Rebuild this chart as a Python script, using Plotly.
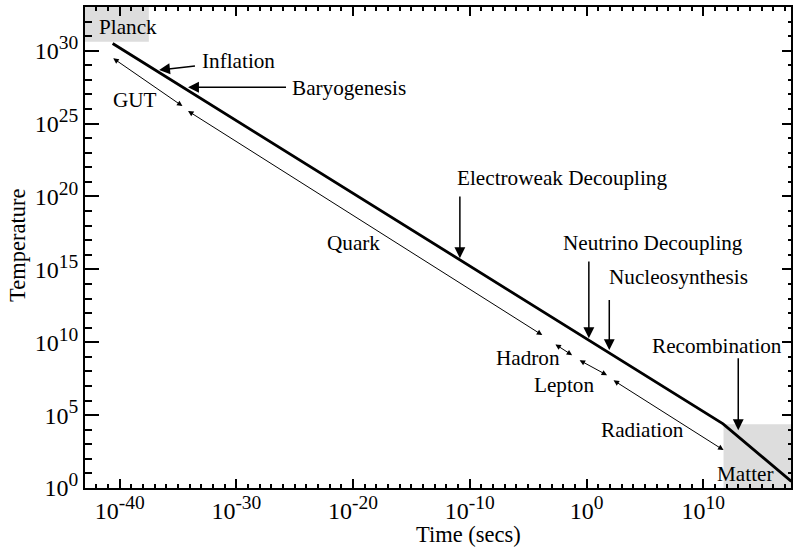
import plotly.graph_objects as go

# Axes are in decades: x = log10(time / s), y = log10(temperature / K)
X_RANGE = [-42.97, 17.52]
Y_RANGE = [0.0, 33.0]

# Cosmic temperature history (breakpoints in decades)
history_log_t = [-40.6, 11.7, 17.55]
history_log_T = [30.5, 4.4, 0.45]

# Epochs drawn as double-headed arrows below the curve
era_names = ["GUT", "Quark", "Hadron", "Lepton", "Radiation"]
era_start_log_t = [-40.68, -34.27, -2.79, -0.72, 2.19]
era_end_log_t = [-34.62, -3.79, -1.23, 1.76, 11.74]
era_start_log_T = [29.55, 25.93, 9.92, 8.82, 7.45]
era_end_log_T = [26.20, 10.49, 9.11, 7.74, 2.60]

# Events marked with vertical arrows onto the curve
event_names = ["Electroweak Decoupling", "Neutrino Decoupling", "Nucleosynthesis", "Recombination"]
event_log_t = [-10.85, 0.20, 1.95, 13.0]
event_tip_log_T = [15.77, 10.28, 9.46, 3.97]
event_tail_log_T = [20.10, 15.64, 13.00, 9.00]

# Early-universe events marked with side arrows
early_names = ["Inflation", "Baryogenesis"]
early_tip_log_t = [-36.62, -34.14]
early_tip_log_T = [28.68, 27.49]
early_tail_log_t = [-33.42, -25.62]
early_tail_log_T = [28.97, 27.49]

# Shaded regimes
planck_box = dict(t0=X_RANGE[0], t1=-37.5, T0=30.62, T1=Y_RANGE[1])
matter_box = dict(t0=11.74, t1=X_RANGE[1], T0=Y_RANGE[0], T1=4.38)

# Tick labels (powers of ten)
x_tick_exps = [-40, -30, -20, -10, 0, 10]
y_tick_exps = [0, 5, 10, 15, 20, 25, 30]

FONT = "Liberation Serif, Times New Roman, serif"
TXT = 21.2
TICK = 24
SUP = 19.5
TITLE = 22.5


def power_label(e):
    return f"10<sup><span style='font-size:{SUP}px'>{e}</span></sup>"


x_tick_text = [power_label(e) for e in x_tick_exps]
y_tick_text = [power_label(e) for e in y_tick_exps]

fig = go.Figure()
fig.add_trace(go.Scatter(
    x=history_log_t, y=history_log_T, mode="lines",
    line=dict(color="black", width=2.8), hoverinfo="skip", showlegend=False,
))
# helper trace so the top/right tick axes are drawn
fig.add_trace(go.Scatter(
    x=[0], y=[10], xaxis="x2", yaxis="y2", mode="markers",
    marker=dict(opacity=0), hoverinfo="skip", showlegend=False,
))

shapes = []
for b in (planck_box, matter_box):
    shapes.append(dict(
        type="rect", xref="x", yref="y", x0=b["t0"], x1=b["t1"], y0=b["T0"], y1=b["T1"],
        fillcolor="#dddddd", line=dict(width=0), layer="below",
    ))

annotations = []


def arrow(x, y, ax, ay, width, size, both=False):
    d = dict(
        x=x, y=y, ax=ax, ay=ay, xref="x", yref="y", axref="x", ayref="y",
        text="", showarrow=True, arrowhead=2, arrowsize=size, arrowwidth=width,
        arrowcolor="black", standoff=0, startstandoff=0,
    )
    if both:
        d.update(arrowside="end+start", startarrowhead=2, startarrowsize=size)
    return d


def label(text, x, y):
    return dict(
        x=x, y=y, xref="x", yref="y", text=text, showarrow=False,
        xanchor="left", yanchor="middle", font=dict(family=FONT, size=TXT, color="black"),
    )


for i in range(len(era_names)):
    annotations.append(arrow(era_end_log_t[i], era_end_log_T[i],
                             era_start_log_t[i], era_start_log_T[i], 1.0, 1.1, both=True))

for i in range(len(event_names)):
    annotations.append(arrow(event_log_t[i], event_tip_log_T[i],
                             event_log_t[i], event_tail_log_T[i], 1.5, 1.45))

for i in range(len(early_names)):
    annotations.append(arrow(early_tip_log_t[i], early_tip_log_T[i],
                             early_tail_log_t[i], early_tail_log_T[i], 1.5, 1.45))

# Text labels (left edge, vertical centre)
label_pos = {
    "Planck": (-41.94, 31.63),
    "Inflation": (-33.14, 29.29),
    "Baryogenesis": (-25.44, 27.44),
    "GUT": (-40.74, 26.62),
    "Quark": (-22.37, 16.80),
    "Electroweak Decoupling": (-11.26, 21.26),
    "Neutrino Decoupling": (-2.22, 16.80),
    "Nucleosynthesis": (1.73, 14.47),
    "Recombination": (5.47, 9.73),
    "Hadron": (-7.92, 8.91),
    "Lepton": (-4.67, 7.06),
    "Radiation": (1.05, 3.97),
    "Matter": (11.05, 0.95),
}
for name, (lx, ly) in label_pos.items():
    annotations.append(label(name, lx, ly))

# Axis titles
annotations.append(dict(
    x=0.466, y=-0.097, xref="paper", yref="paper", text="Time (secs)", showarrow=False,
    xanchor="left", yanchor="middle", font=dict(family=FONT, size=TITLE, color="black"),
))
annotations.append(dict(
    x=-0.0965, y=0.505, xref="paper", yref="paper", text="Temperature", showarrow=False,
    textangle=-90, xanchor="center", yanchor="middle",
    font=dict(family=FONT, size=TITLE, color="black"),
))

axis_common = dict(showgrid=False, zeroline=False, tickcolor="black", ticks="inside")

fig.update_layout(
    width=794, height=551,
    margin=dict(l=85, r=1, t=7, b=63, pad=0),
    paper_bgcolor="white", plot_bgcolor="white",
    font=dict(family=FONT, color="black"),
    shapes=shapes, annotations=annotations,
    xaxis=dict(
        range=X_RANGE, tickmode="array", tickvals=x_tick_exps, ticktext=x_tick_text,
        ticklen=9, tickwidth=1.5, showline=True, linewidth=2, linecolor="black", mirror=True,
        tickfont=dict(family=FONT, size=TICK, color="black"),
        minor=dict(tickmode="linear", tick0=0, dtick=1, ticks="inside", ticklen=4,
                   tickwidth=1.5, tickcolor="black", showgrid=False),
        **axis_common,
    ),
    yaxis=dict(
        range=Y_RANGE, tickmode="array", tickvals=y_tick_exps, ticktext=y_tick_text,
        ticklen=14, tickwidth=1.5, showline=True, linewidth=2, linecolor="black", mirror=True,
        tickfont=dict(family=FONT, size=TICK, color="black"),
        minor=dict(tickmode="linear", tick0=0, dtick=1, ticks="inside", ticklen=7,
                   tickwidth=1.5, tickcolor="black", showgrid=False),
        **axis_common,
    ),
    xaxis2=dict(
        range=X_RANGE, overlaying="x", side="top", anchor="y",
        tickmode="array", tickvals=x_tick_exps, showticklabels=False,
        ticklen=9, tickwidth=1.5, showline=False,
        minor=dict(tickmode="linear", tick0=0, dtick=1, ticks="inside", ticklen=3.5,
                   tickwidth=1.5, tickcolor="black", showgrid=False),
        **axis_common,
    ),
    yaxis2=dict(
        range=Y_RANGE, overlaying="y", side="right", anchor="x",
        tickmode="array", tickvals=y_tick_exps, showticklabels=False,
        ticklen=9, tickwidth=1.5, showline=False,
        minor=dict(tickmode="linear", tick0=0, dtick=1, ticks="inside", ticklen=3,
                   tickwidth=1.5, tickcolor="black", showgrid=False),
        **axis_common,
    ),
)

fig.write_html("out.html")
